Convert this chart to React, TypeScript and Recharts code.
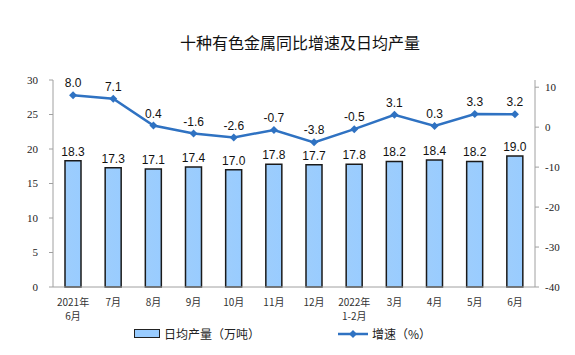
import React from 'react';
import { ComposedChart, Bar, Line, XAxis, YAxis, LabelList, Legend } from 'recharts';

const months = ['2021年\n6月', '7月', '8月', '9月', '10月', '11月', '12月', '2022年\n1-2月', '3月', '4月', '5月', '6月'];
const dailyOutput = [18.3, 17.3, 17.1, 17.4, 17.0, 17.8, 17.7, 17.8, 18.2, 18.4, 18.2, 19.0];
const growth = [8.0, 7.1, 0.4, -1.6, -2.6, -0.7, -3.8, -0.5, 3.1, 0.3, 3.3, 3.2];
const leftTicks = [0, 5, 10, 15, 20, 25, 30];
const rightTicks = [-40, -30, -20, -10, 0, 10];

const data = months.map((m, i) => ({ month: m, output: dailyOutput[i], growth: growth[i] }));

const lineColor = '#2F72C2';
const axisColor = '#A0A0A0';
const cjk = '"Noto Sans CJK SC", sans-serif';

const MonthTick = (props: any) => {
  const { x, y, payload } = props;
  const lines = String(payload.value).split('\n');
  return (
    <g>
      {lines.map((l, i) => (
        <text key={i} x={x} y={y + 11 + i * 14} textAnchor="middle" fontSize={10} fill="#333" fontFamily={cjk}>
          {l}
        </text>
      ))}
    </g>
  );
};

const Diamond = (props: any) => {
  const { cx, cy } = props;
  if (cx == null || cy == null) return null;
  return <path d={`M${cx},${cy - 4}L${cx + 4},${cy}L${cx},${cy + 4}L${cx - 4},${cy}Z`} fill={lineColor} />;
};

const LegendContent = () => (
  <div style={{ height: 20, position: 'relative', fontFamily: cjk, fontSize: 12, color: '#222' }}>
    <div style={{ position: 'absolute', left: 134, top: 2, display: 'flex', alignItems: 'center' }}>
      <span style={{ display: 'inline-block', width: 24, height: 7, background: '#99CCFF', border: '1.5px solid #222', marginRight: 4 }} />
      <span>日均产量（万吨）</span>
    </div>
    <div style={{ position: 'absolute', left: 338, top: 2, display: 'flex', alignItems: 'center' }}>
      <svg width={30} height={10} style={{ marginRight: 4 }}>
        <line x1={0} y1={5} x2={30} y2={5} stroke={lineColor} strokeWidth={2.5} />
        <path d="M15,1L19,5L15,9L11,5Z" fill={lineColor} />
      </svg>
      <span>增速（%）</span>
    </div>
  </div>
);

export default function App() {
  return (
    <div style={{ position: 'absolute', left: 0, top: 0, width: 575, height: 355, background: '#fff' }}>
      <div style={{ position: 'absolute', top: 30, width: 600, textAlign: 'center', fontFamily: cjk, fontSize: 16, color: '#111' }}>
        十种有色金属同比增速及日均产量
      </div>
      <ComposedChart width={575} height={355} data={data} margin={{ top: 80, right: 0, bottom: 12, left: 0 }}>
        <defs>
          <linearGradient id="barFill" x1="0" y1="0" x2="1" y2="0">
            <stop offset="0%" stopColor="#9DCDFC" />
            <stop offset="100%" stopColor="#99CCFF" />
          </linearGradient>
        </defs>
        <XAxis
          dataKey="month"
          height={36}
          tick={<MonthTick />}
          tickLine={false}
          axisLine={{ stroke: axisColor }}
          interval={0}
        />
        <YAxis
          yAxisId="left"
          width={53}
          domain={[0, 30]}
          ticks={leftTicks}
          tick={{ fontSize: 11, fill: '#222', fontFamily: '"Liberation Serif", serif' }}
          tickLine={{ stroke: axisColor }}
          tickSize={4}
          axisLine={{ stroke: axisColor }}
          tickMargin={11}
        />
        <YAxis
          yAxisId="right"
          orientation="right"
          width={40}
          domain={[-40, 11.8]}
          ticks={rightTicks}
          tick={{ fontSize: 11, fill: '#222', fontFamily: '"Liberation Serif", serif' }}
          tickLine={{ stroke: axisColor }}
          tickSize={4}
          axisLine={{ stroke: axisColor }}
          tickMargin={6}
          allowDataOverflow
        />
        <Legend verticalAlign="bottom" content={<LegendContent />} />
        <Bar yAxisId="left" dataKey="output" barSize={16} fill="url(#barFill)" stroke="#1A1A1A" strokeWidth={1.5} isAnimationActive={false}>
          <LabelList dataKey="output" position="top" offset={5} formatter={(v: any) => Number(v).toFixed(1)} style={{ fontSize: 12, fill: '#111', fontFamily: '"Liberation Sans", Arial, sans-serif' }} />
        </Bar>
        <Line yAxisId="right" dataKey="growth" stroke={lineColor} strokeWidth={2.5} dot={<Diamond />} activeDot={false} isAnimationActive={false}>
          <LabelList dataKey="growth" position="top" offset={8} formatter={(v: any) => Number(v).toFixed(1)} style={{ fontSize: 12, fill: '#111', fontFamily: '"Liberation Sans", Arial, sans-serif' }} />
        </Line>
      </ComposedChart>
    </div>
  );
}
